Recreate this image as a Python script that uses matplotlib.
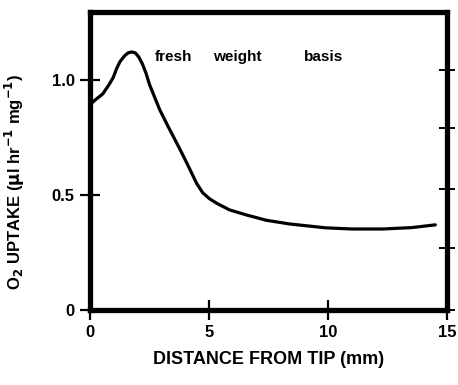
import numpy as np
import matplotlib.pyplot as plt

# O2 uptake along the root, fresh weight basis
distance = [0.0, 0.07, 0.3, 0.54, 0.8, 0.97, 1.12, 1.26, 1.45, 1.6, 1.75, 1.9, 2.05,
            2.2, 2.35, 2.5, 2.93, 3.27, 3.77, 4.06, 4.48, 4.73, 5.0, 5.3, 5.86, 6.57,
            7.4, 8.37, 9.9, 11.0, 12.3, 13.5, 14.5]
uptake = [0.895, 0.90, 0.92, 0.94, 0.98, 1.01, 1.05, 1.08, 1.105, 1.118, 1.122, 1.118,
          1.10, 1.07, 1.03, 0.98, 0.87, 0.80, 0.70, 0.64, 0.55, 0.51, 0.485, 0.465,
          0.435, 0.413, 0.39, 0.374, 0.357, 0.352, 0.352, 0.358, 0.37]

x_ticks = [0, 5, 10, 15]
y_ticks = [0, 0.5, 1.0]
y_ticklabels = ['0', '0.5', '1.0']
right_ticks = [0.0, 0.27, 0.526, 0.79, 1.043]
note_words = ['fresh', 'weight', 'basis']
note_x = [2.72, 5.15, 9.0]

plt.rcParams['font.family'] = ['Liberation Sans', 'DejaVu Sans']
plt.rcParams['font.weight'] = 'bold'

fig = plt.figure(figsize=(4.58, 3.85), dpi=100)
ax = fig.add_axes([0.1965, 0.195, 0.78, 0.774])

ax.plot(distance, uptake, color='black', lw=2.3, solid_capstyle='round',
        solid_joinstyle='round')

ax.set_xlim(0, 15)
ax.set_ylim(0, 1.296)
ax.set_xticks(x_ticks)
ax.set_yticks(y_ticks)
ax.set_yticklabels(y_ticklabels)
ax.tick_params(direction='inout', length=14, width=1.6, labelsize=12, pad=4)
for sp in ax.spines.values():
    sp.set_linewidth(3.8)

for word, xw in zip(note_words, note_x):
    ax.text(xw, 1.10, word, fontsize=11, fontweight='bold', va='center', ha='left')

ax.set_xlabel('DISTANCE FROM TIP (mm)', fontsize=13, fontweight='bold', labelpad=8)
ax.set_ylabel('O$_\\mathbf{2}$ UPTAKE ($\\mathbf{\\mu}$l hr$^{-1}$ mg$^{-1}$)',
              fontsize=12, fontweight='bold')
ax.yaxis.set_label_coords(-0.175, 0.43)

ax2 = ax.twinx()
ax2.set_ylim(ax.get_ylim())
ax2.set_yticks(right_ticks)
ax2.set_yticklabels([])
ax2.tick_params(direction='inout', length=12, width=1.4)
for sp in ax2.spines.values():
    sp.set_visible(False)

fig.savefig('out.png', dpi=100)
